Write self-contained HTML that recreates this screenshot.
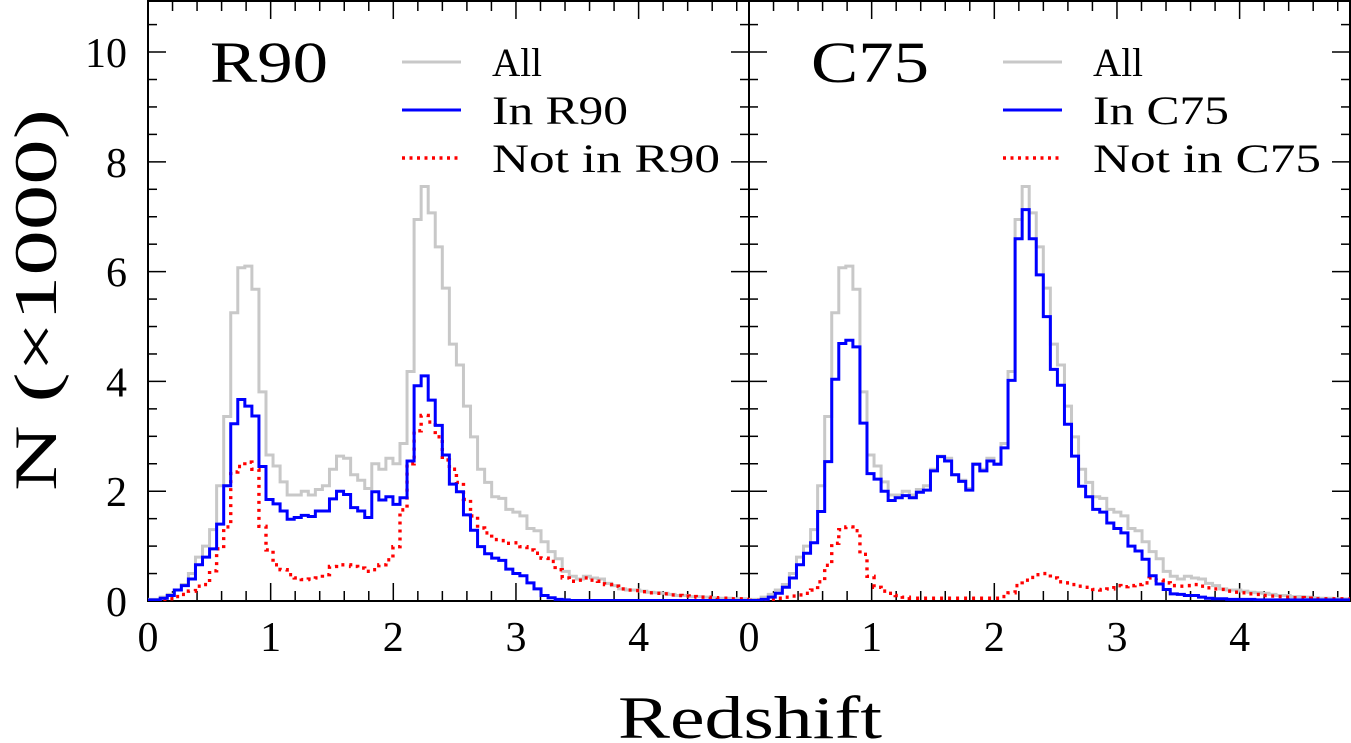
<!DOCTYPE html>
<html><head><meta charset="utf-8"><style>
html,body{margin:0;padding:0;background:#fff}
svg{display:block}
text{font-family:"Liberation Serif","DejaVu Serif",serif;fill:#000}
</style></head><body>
<svg id="chart" width="1351" height="743" viewBox="0 0 1351 743" xmlns="http://www.w3.org/2000/svg">
<defs>
<clipPath id="clipL"><rect x="148" y="1" width="601" height="600"/></clipPath>
<clipPath id="clipR"><rect x="749" y="1" width="601" height="600"/></clipPath>
</defs>
<g id="axes"></g>
<g id="series"></g>
<g id="legend"></g>
<text x="0" y="0" font-size="60" text-anchor="middle" textLength="382" lengthAdjust="spacingAndGlyphs" transform="translate(56,300) rotate(-90)">N (×1000)</text>
<text x="618" y="738" font-size="60" textLength="264" lengthAdjust="spacingAndGlyphs">Redshift</text>
</svg>
<script>
const binStart = 0.042;
const binWidth = 0.0575;
const allCounts = [0.03,0.07,0.12,0.2,0.3,0.5,0.8,1.0,1.3,2.1,3.36,5.25,6.07,6.1,5.68,3.81,2.66,2.46,2.17,1.93,1.93,2.0,1.93,2.03,2.1,2.4,2.64,2.6,2.3,2.2,2.05,2.5,2.4,2.6,2.5,2.87,4.18,6.95,7.55,7.07,6.45,5.7,4.68,4.3,3.55,2.99,2.4,2.16,1.9,1.87,1.67,1.62,1.55,1.32,1.28,1.08,0.9,0.77,0.54,0.45,0.4,0.45,0.42,0.4,0.32,0.28,0.22,0.2,0.2,0.18,0.16,0.15,0.14,0.12,0.1,0.1,0.08,0.08,0.07,0.06,0.05,0.05,0.04,0.04,0.03];
const inR90 = [0.02,0.05,0.1,0.2,0.28,0.4,0.66,0.8,0.95,1.4,2.1,3.23,3.67,3.55,3.37,2.45,1.85,1.77,1.64,1.49,1.52,1.56,1.54,1.64,1.64,1.86,2.0,1.94,1.7,1.64,1.52,1.99,1.84,1.9,1.76,1.88,2.55,3.92,4.1,3.66,3.2,2.66,2.13,1.99,1.57,1.29,0.99,0.86,0.78,0.74,0.58,0.5,0.46,0.33,0.22,0.1,0.06,0.03,0.02,0.01,0.01,0.01,0.01,0.01,0.01,0.01,0.01,0.01,0.01,0.01,0.01,0.01,0.01,0.01,0.01,0.01,0.01,0.01,0.01,0.01,0.01,0.01,0.01,0.01,0.01];
const notInR90 = [0.01,0.02,0.04,0.08,0.12,0.18,0.27,0.3,0.55,0.95,1.35,2.35,2.45,2.53,2.4,1.36,0.93,0.66,0.57,0.48,0.42,0.39,0.4,0.42,0.48,0.63,0.66,0.66,0.63,0.6,0.54,0.57,0.66,0.75,0.99,1.66,2.5,3.1,3.38,3.26,2.99,2.57,2.4,2.16,1.85,1.55,1.33,1.24,1.12,1.1,1.05,1.06,0.99,0.93,0.87,0.78,0.72,0.57,0.42,0.36,0.38,0.42,0.38,0.36,0.3,0.27,0.22,0.2,0.19,0.17,0.15,0.14,0.13,0.11,0.1,0.09,0.08,0.07,0.07,0.06,0.05,0.05,0.04,0.04,0.03];
const inC75 = [0.01,0.03,0.07,0.14,0.25,0.42,0.66,0.87,1.06,1.63,2.54,4.04,4.69,4.75,4.63,3.24,2.32,2.22,2.0,1.83,1.88,1.92,1.88,1.98,2.02,2.37,2.63,2.55,2.3,2.18,2.02,2.49,2.37,2.55,2.49,2.79,4.02,6.6,7.13,6.6,5.94,5.18,4.22,3.93,3.22,2.64,2.09,1.9,1.67,1.62,1.42,1.32,1.24,1.0,0.91,0.76,0.46,0.31,0.21,0.13,0.12,0.1,0.1,0.07,0.05,0.04,0.04,0.03,0.03,0.03,0.03,0.02,0.02,0.02,0.02,0.02,0.02,0.02,0.02,0.02,0.02,0.02,0.02,0.02,0.02];
const notInC75 = [0.01,0.02,0.03,0.05,0.07,0.09,0.11,0.14,0.2,0.35,0.65,1.05,1.3,1.35,1.28,0.85,0.45,0.25,0.18,0.14,0.1,0.07,0.05,0.05,0.05,0.05,0.05,0.05,0.05,0.05,0.05,0.05,0.05,0.05,0.05,0.08,0.15,0.28,0.38,0.43,0.48,0.5,0.42,0.35,0.33,0.3,0.27,0.25,0.21,0.2,0.22,0.28,0.26,0.28,0.3,0.33,0.42,0.38,0.33,0.28,0.27,0.28,0.3,0.27,0.24,0.22,0.21,0.18,0.16,0.15,0.13,0.12,0.1,0.09,0.08,0.07,0.06,0.06,0.05,0.04,0.04,0.04,0.04,0.04,0.04];
const xTickLabels = ["0","1","2","3","4"];
const yTickLabels = ["0","2","4","6","8","10"];
const panelNames = ["R90","C75"];

const NS = "http://www.w3.org/2000/svg";
const PX0 = [148, 749], PW = 601, Y0 = 601, YT = 1;
const XMAX = 4.9, YMAX = 10.93;
function xs(p, v){ return PX0[p] + v / XMAX * PW; }
function ys(v){ return Y0 - v / YMAX * (Y0 - YT); }
function mk(tag, attrs, parent){
  const e = document.createElementNS(NS, tag);
  for (const k in attrs) e.setAttribute(k, attrs[k]);
  parent.appendChild(e); return e;
}
const axes = document.getElementById('axes');
const series = document.getElementById('series');
const legend = document.getElementById('legend');

for (let p = 0; p < 2; p++){
  const frame = mk('rect', {x: PX0[p], y: YT, width: PW, height: Y0 - YT, fill: 'none', stroke: '#000', 'stroke-width': 2}, axes);
  
  
  for (let i = 0; i <= 24; i++){
    const v = i * 0.2; if (v > XMAX) break;
    const major = i % 5 === 0, L = major ? 18 : 10, x = xs(p, v);
    const t1 = mk('line', {x1: x, x2: x, y1: Y0, y2: Y0 - L, stroke: '#000', 'stroke-width': 1.5}, axes);
    
    
    const t2 = mk('line', {x1: x, x2: x, y1: YT, y2: YT + L, stroke: '#000', 'stroke-width': 1.5}, axes);
    
    
  }
  xTickLabels.forEach((lab, i) => {
    const t = mk('text', {x: xs(p, +lab), y: 651, 'font-size': 42, 'text-anchor': 'middle'}, axes);
    t.textContent = lab;
    
    
  });
  for (let i = 0; i <= 21; i++){
    const v = i * 0.5; const major = i % 4 === 0, L = major ? 18 : 9, y = ys(v);
    const a = mk('line', {x1: PX0[p], x2: PX0[p] + L, y1: y, y2: y, stroke: '#000', 'stroke-width': 1.5}, axes);
    
    
    const b = mk('line', {x1: PX0[p] + PW, x2: PX0[p] + PW - L, y1: y, y2: y, stroke: '#000', 'stroke-width': 1.5}, axes);
    
    
  }
}
yTickLabels.forEach(lab => {
  const t = mk('text', {x: 127, y: ys(+lab) + 15, 'font-size': 42, 'text-anchor': 'end'}, axes);
  t.textContent = lab;
  
  
});

function stepPath(p, vals){
  let d = 'M' + xs(p, 0) + ',' + ys(vals[0]);
  for (let k = 0; k < vals.length; k++){
    const x1 = xs(p, binStart + (k + 1) * binWidth);
    d += ' H' + x1.toFixed(2);
    if (k + 1 < vals.length) d += ' V' + ys(vals[k + 1]).toFixed(2);
  }
  return d;
}
const defs = [
  [0, allCounts, '#c8c8c8', null, 'all-histogram-r90'],
  [0, notInR90, '#ff0000', '3 5', 'not-in-r90-histogram'],
  [0, inR90, '#0000ff', null, 'in-r90-histogram'],
  [1, allCounts, '#c8c8c8', null, 'all-histogram-c75'],
  [1, notInC75, '#ff0000', '3 5', 'not-in-c75-histogram'],
  [1, inC75, '#0000ff', null, 'in-c75-histogram']
];
defs.forEach(([p, vals, col, dash, name]) => {
  const a = {d: stepPath(p, vals), fill: 'none', stroke: col, 'stroke-width': dash ? 3.4 : 3, 'clip-path': p ? 'url(#clipR)' : 'url(#clipL)'};
  if (dash){ a['stroke-dasharray'] = dash; }
  const e = mk('path', a, series);
  
  
});

const legendLens = [[50, 136, 228], [50, 136, 228]];
for (let p = 0; p < 2; p++){
  const ox = PX0[p] - 148;
  const t = mk('text', {x: 210 + ox, y: 82, 'font-size': 58, textLength: 118, lengthAdjust: 'spacingAndGlyphs'}, legend);
  t.textContent = panelNames[p];
  
  
  const entries = [['All', '#c8c8c8', null], ['In ' + panelNames[p], '#0000ff', null], ['Not in ' + panelNames[p], '#ff0000', '3 4.5']];
  entries.forEach(([lab, col, dash], i) => {
    const y = 62 + i * 48;
    const la = {x1: 402 + ox, x2: 461 + ox, y1: y, y2: y, stroke: col, 'stroke-width': dash ? 3.4 : 3};
    if (dash) la['stroke-dasharray'] = dash;
    const l = mk('line', la, legend);
    
    
    const tx = mk('text', {x: 492 + ox, y: y + 14, 'font-size': 40, textLength: legendLens[p][i], lengthAdjust: 'spacingAndGlyphs'}, legend);
    tx.textContent = lab;
    
    
  });
}
</script>
</body></html>
